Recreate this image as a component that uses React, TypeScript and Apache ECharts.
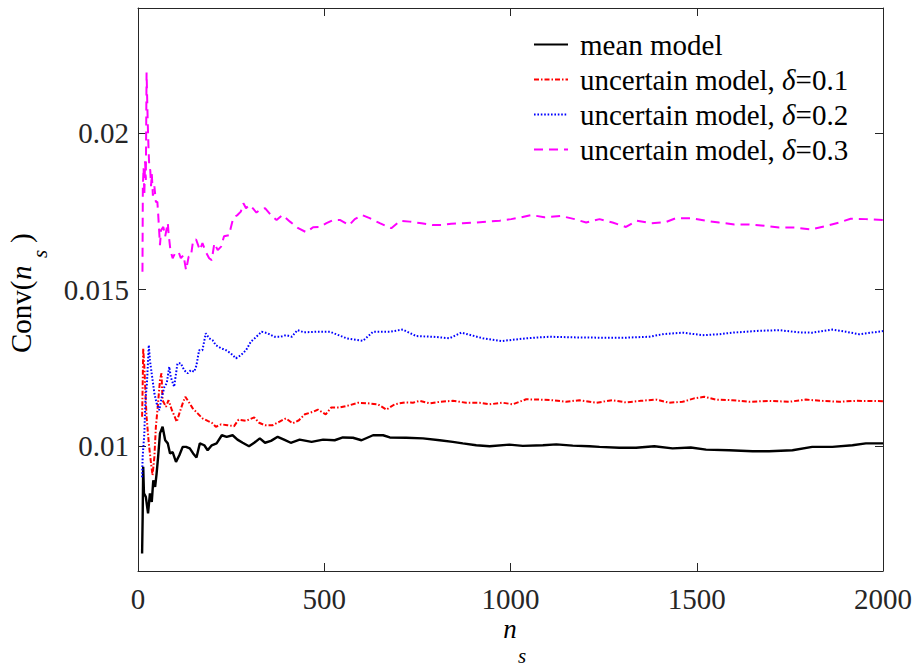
import React, { useEffect, useRef } from "react";
import * as echarts from "echarts";

const xTicks = [0, 500, 1000, 1500, 2000];
const yTicks = [0.01, 0.015, 0.02];

const seriesNames = [
  "mean model",
  "uncertain model, δ=0.1",
  "uncertain model, δ=0.2",
  "uncertain model, δ=0.3",
];

const meanX = [11, 12.5, 14, 16, 21, 27, 32, 37, 41, 46, 50, 54, 59, 66, 73, 80, 86, 93, 102, 111, 120, 129, 139, 148, 157, 166, 178, 187, 198, 211, 225, 238, 254, 267, 281, 298, 312, 327, 341, 357, 375, 392, 410, 434, 466, 497, 528, 550, 577, 600, 631, 658, 676, 720, 765, 810, 845, 872, 908, 944, 997, 1033, 1087, 1123, 1167, 1212, 1239, 1292, 1337, 1386, 1435, 1484, 1525, 1587, 1650, 1694, 1757, 1810, 1864, 1918, 1954, 2000];
const meanY = [0.00656, 0.00773, 0.00933, 0.00848, 0.00837, 0.00784, 0.00848, 0.00821, 0.0089, 0.00869, 0.00912, 0.00965, 0.0104, 0.01061, 0.01018, 0.01008, 0.00976, 0.0098, 0.00949, 0.0097, 0.00997, 0.00997, 0.00992, 0.00976, 0.00963, 0.01008, 0.01002, 0.00986, 0.01002, 0.01008, 0.01034, 0.01029, 0.01034, 0.0102, 0.0101, 0.00999, 0.0101, 0.01024, 0.0101, 0.01016, 0.01029, 0.0102, 0.0101, 0.0102, 0.01013, 0.0102, 0.01018, 0.01027, 0.01026, 0.01018, 0.01034, 0.01034, 0.01027, 0.01026, 0.01024, 0.01018, 0.01013, 0.01008, 0.01002, 0.00999, 0.01004, 0.01, 0.01002, 0.01005, 0.01001, 0.00999, 0.00997, 0.00994, 0.00994, 0.00999, 0.00992, 0.00995, 0.00988, 0.00986, 0.00983, 0.00983, 0.00986, 0.00997, 0.00997, 0.01002, 0.01008, 0.01008];

const d1X = [11, 12.5, 14, 17, 20, 23, 29, 35, 39, 44, 48, 53, 59, 63, 66, 75, 82, 91, 97, 104, 111, 120, 127, 136, 147, 160, 173, 187, 198, 209, 223, 240, 258, 270, 290, 312, 325, 341, 361, 379, 397, 415, 432, 448, 470, 483, 504, 519, 542, 568, 591, 617, 644, 667, 689, 716, 738, 756, 783, 810, 845, 881, 917, 944, 979, 1006, 1042, 1078, 1113, 1149, 1185, 1230, 1274, 1310, 1350, 1391, 1426, 1462, 1493, 1520, 1551, 1596, 1641, 1694, 1748, 1793, 1837, 1882, 1927, 2000];
const d1Y = [0.01093, 0.01189, 0.01312, 0.01253, 0.01168, 0.01093, 0.01008, 0.00944, 0.00906, 0.00965, 0.01061, 0.01125, 0.0121, 0.01232, 0.01146, 0.01125, 0.01146, 0.01114, 0.01098, 0.01077, 0.01104, 0.01136, 0.01157, 0.01141, 0.0112, 0.01104, 0.01088, 0.0108, 0.01074, 0.01061, 0.01069, 0.01066, 0.01063, 0.01084, 0.0108, 0.01091, 0.01074, 0.01066, 0.01066, 0.01077, 0.01088, 0.01072, 0.01082, 0.01101, 0.01109, 0.01116, 0.01101, 0.01123, 0.01123, 0.0113, 0.01138, 0.01136, 0.01133, 0.01116, 0.01133, 0.01139, 0.01138, 0.01144, 0.01136, 0.01141, 0.01144, 0.01138, 0.01138, 0.01133, 0.01138, 0.01133, 0.01149, 0.01148, 0.01146, 0.01141, 0.01146, 0.01138, 0.01146, 0.01139, 0.01144, 0.01148, 0.01138, 0.01141, 0.01152, 0.01157, 0.01148, 0.01146, 0.01141, 0.01144, 0.01141, 0.01148, 0.01144, 0.01141, 0.01144, 0.01143];

const d2X = [11, 12.5, 17, 20, 24, 29, 32, 38, 44, 50, 57, 64, 71, 77, 84, 88, 97, 106, 115, 124, 133, 142, 151, 157, 164, 173, 182, 191, 200, 209, 223, 236, 249, 263, 276, 290, 303, 316, 332, 348, 366, 383, 397, 413, 428, 446, 479, 515, 560, 604, 631, 676, 711, 747, 792, 836, 868, 926, 975, 1042, 1105, 1167, 1239, 1310, 1373, 1408, 1462, 1516, 1560, 1596, 1632, 1668, 1721, 1775, 1810, 1864, 1900, 1936, 2000];
const d2Y = [0.009, 0.00965, 0.0104, 0.01146, 0.012, 0.01322, 0.01274, 0.0122, 0.01168, 0.01136, 0.01114, 0.01157, 0.01189, 0.012, 0.01253, 0.0122, 0.01189, 0.01264, 0.01264, 0.01242, 0.01232, 0.01242, 0.01237, 0.01258, 0.01306, 0.01306, 0.0136, 0.01344, 0.01338, 0.01322, 0.01312, 0.01306, 0.01296, 0.0128, 0.0129, 0.01306, 0.01333, 0.01347, 0.01365, 0.0136, 0.01349, 0.01349, 0.01354, 0.01349, 0.0137, 0.01363, 0.01365, 0.01365, 0.01344, 0.01336, 0.01365, 0.01365, 0.01372, 0.01351, 0.01349, 0.01344, 0.01362, 0.01344, 0.01335, 0.01344, 0.01349, 0.01347, 0.01346, 0.01346, 0.01349, 0.01357, 0.01362, 0.01354, 0.01357, 0.01362, 0.01365, 0.01368, 0.0137, 0.01363, 0.01362, 0.01372, 0.01365, 0.01357, 0.01367];

const d3X = [12, 13, 15, 17, 19, 21, 23, 26, 28, 30, 33, 35, 37, 40, 44, 48, 52, 54, 59, 62, 68, 73, 80, 82, 87, 93, 100, 109, 115, 122, 129, 136, 142, 148, 156, 166, 173, 182, 191, 198, 205, 214, 223, 231, 245, 249, 256, 267, 276, 283, 290, 299, 308, 318, 327, 341, 357, 372, 388, 408, 430, 452, 470, 488, 506, 524, 543, 567, 582, 602, 622, 649, 680, 704, 729, 761, 792, 814, 841, 872, 908, 939, 971, 1002, 1029, 1056, 1091, 1136, 1172, 1203, 1239, 1274, 1310, 1339, 1377, 1416, 1444, 1484, 1523, 1560, 1601, 1641, 1681, 1721, 1766, 1806, 1846, 1882, 1913, 1954, 2000];
const d3Y = [0.01557, 0.0183, 0.0189, 0.018, 0.0191, 0.0185, 0.02194, 0.0204, 0.0196, 0.019, 0.0188, 0.0183, 0.0187, 0.018, 0.0183, 0.0178, 0.0178, 0.01745, 0.01642, 0.0169, 0.017, 0.0167, 0.01713, 0.0168, 0.01626, 0.016, 0.01617, 0.0162, 0.016, 0.0161, 0.01562, 0.01605, 0.01605, 0.01658, 0.0166, 0.01626, 0.01648, 0.0162, 0.016, 0.01594, 0.01648, 0.01626, 0.01637, 0.0167, 0.01674, 0.01697, 0.0173, 0.01738, 0.01749, 0.01776, 0.0176, 0.0177, 0.0176, 0.01746, 0.01754, 0.0176, 0.01738, 0.01722, 0.01738, 0.01717, 0.01696, 0.01683, 0.01699, 0.017, 0.01712, 0.01722, 0.01722, 0.01706, 0.01725, 0.01738, 0.01728, 0.01712, 0.01696, 0.0172, 0.01717, 0.01712, 0.01706, 0.01706, 0.0171, 0.01712, 0.01714, 0.01717, 0.0172, 0.01725, 0.01731, 0.01738, 0.01731, 0.01735, 0.01725, 0.01714, 0.01725, 0.01714, 0.017, 0.0172, 0.01712, 0.01715, 0.01728, 0.01728, 0.0172, 0.01714, 0.01708, 0.01708, 0.01704, 0.01698, 0.01698, 0.01692, 0.01703, 0.01714, 0.01726, 0.01725, 0.01722];

const FONT = "'Liberation Serif', 'Times New Roman', serif";
const AXIS_COLOR = "#262626";

const pairs = (xs: number[], ys: number[]) => xs.map((x, i) => [x, ys[i]]);

export default function App() {
  const ref = useRef<HTMLDivElement>(null);

  useEffect(() => {
    if (!ref.current) return;
    const chart = echarts.init(ref.current, null, { renderer: "svg" });

    const lineDefs = [
      { name: seriesNames[0], xs: meanX, ys: meanY, color: "#000000", type: "solid", width: 2.4 },
      { name: seriesNames[1], xs: d1X, ys: d1Y, color: "#ff0000", type: [5, 2, 1.5, 2], width: 2 },
      { name: seriesNames[2], xs: d2X, ys: d2Y, color: "#0000ff", type: [1.6, 1.8], width: 2 },
      { name: seriesNames[3], xs: d3X, ys: d3Y, color: "#ff00ff", type: [9, 6], width: 2 },
    ];

    chart.setOption({
      animation: false,
      backgroundColor: "#ffffff",
      grid: { left: 138, top: 8, right: 31, bottom: 98 },
      legend: {
        orient: "vertical",
        left: 533,
        top: 30,
        padding: 0,
        itemWidth: 34,
        itemHeight: 4,
        itemGap: 6,
        itemStyle: { opacity: 0, borderWidth: 0 },
        data: seriesNames,
        formatter: (name: string) => name.replace("δ", "{i|δ}"),
        textStyle: {
          fontFamily: FONT,
          fontSize: 29,
          color: "#000000",
          padding: [0, 0, 0, 7],
          rich: {
            i: { fontFamily: FONT, fontSize: 29, fontStyle: "italic", color: "#000000" },
          },
        },
      },
      xAxis: [
        {
          type: "value",
          min: 0,
          max: 2000,
          interval: 500,
          position: "bottom",
          axisLine: { show: true, onZero: false, lineStyle: { color: AXIS_COLOR, width: 1 } },
          axisTick: { show: true, inside: true, length: 8, lineStyle: { color: AXIS_COLOR } },
          axisLabel: {
            margin: 13,
            fontFamily: FONT,
            fontSize: 29,
            color: AXIS_COLOR,
            customValues: xTicks,
            formatter: (v: number) => String(v),
          },
          splitLine: { show: false },
        },
        {
          type: "value",
          min: 0,
          max: 2000,
          interval: 500,
          position: "top",
          axisLine: { show: true, onZero: false, lineStyle: { color: AXIS_COLOR, width: 1 } },
          axisTick: { show: true, inside: true, length: 8, lineStyle: { color: AXIS_COLOR } },
          axisLabel: { show: false },
          splitLine: { show: false },
        },
      ],
      yAxis: [
        {
          type: "value",
          min: 0.006,
          max: 0.024,
          position: "left",
          axisLine: { show: true, onZero: false, lineStyle: { color: AXIS_COLOR, width: 1 } },
          axisTick: { show: true, inside: true, length: 8, lineStyle: { color: AXIS_COLOR }, customValues: yTicks },
          axisLabel: {
            margin: 9,
            fontFamily: FONT,
            fontSize: 29,
            color: AXIS_COLOR,
            customValues: yTicks,
            formatter: (v: number) => String(v),
          },
          splitLine: { show: false },
        },
        {
          type: "value",
          min: 0.006,
          max: 0.024,
          position: "right",
          axisLine: { show: true, onZero: false, lineStyle: { color: AXIS_COLOR, width: 1 } },
          axisTick: { show: true, inside: true, length: 8, lineStyle: { color: AXIS_COLOR }, customValues: yTicks },
          axisLabel: { show: false },
          splitLine: { show: false },
        },
      ],
      series: lineDefs.map((d) => ({
        name: d.name,
        type: "line",
        xAxisIndex: 0,
        yAxisIndex: 0,
        data: pairs(d.xs, d.ys),
        symbol: "none",
        showSymbol: false,
        smooth: false,
        color: d.color,
        lineStyle: { color: d.color, width: d.width, type: d.type },
        emphasis: { disabled: true },
        z: 2,
      })),
      graphic: [
        {
          type: "text",
          x: 510,
          y: 629,
          style: {
            text: "n",
            font: `italic 27px ${FONT}`,
            fill: "#000000",
            align: "center",
            verticalAlign: "middle",
            lineHeight: 16,
          },
        },
        {
          type: "text",
          x: 522,
          y: 656,
          style: {
            text: "s",
            font: `italic 21px ${FONT}`,
            fill: "#000000",
            align: "center",
            verticalAlign: "middle",
            lineHeight: 14,
          },
        },
        {
          type: "group",
          x: 21,
          y: 353,
          rotation: Math.PI / 2,
          children: [
            {
              type: "text",
              x: 0,
              y: 0,
              style: { text: "Conv(", font: `29px ${FONT}`, fill: "#000000", align: "left", verticalAlign: "middle" },
            },
            {
              type: "text",
              x: 73,
              y: 0,
              style: { text: "n", font: `italic 29px ${FONT}`, fill: "#000000", align: "left", verticalAlign: "middle" },
            },
            {
              type: "text",
              x: 95,
              y: 19,
              style: { text: "s", font: `italic 21px ${FONT}`, fill: "#000000", align: "left", verticalAlign: "middle" },
            },
            {
              type: "text",
              x: 110,
              y: 0,
              style: { text: ")", font: `29px ${FONT}`, fill: "#000000", align: "left", verticalAlign: "middle" },
            },
          ],
        },
      ],
    });

    return () => chart.dispose();
  }, []);

  return (
    <div
      ref={ref}
      style={{ position: "absolute", left: 0, top: 0, width: 915, height: 669, background: "#fff" }}
    />
  );
}
